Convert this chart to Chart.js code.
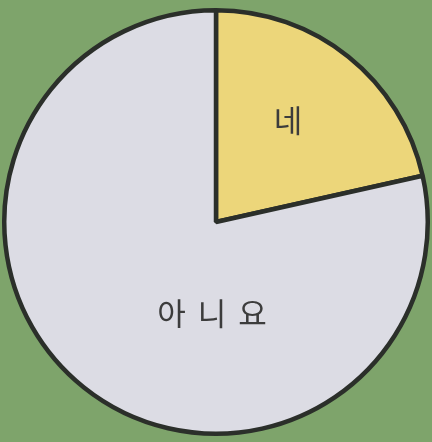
<!DOCTYPE html>
<html>
<head>
<meta charset="utf-8">
<script src="https://cdn.jsdelivr.net/npm/chart.js@4/dist/chart.umd.min.js"></script>
<style>
    html, body { margin: 0; padding: 0; background: #7ea46b; }
    #wrap { width: 432px; height: 442px; }
</style>
</head>
<body>
<div id="wrap"><canvas id="chart-pie"></canvas></div>
<script>
(function () {
    // 데이터
    const labels = ['네', '아니요'];
    const values = [21.5, 78.5];
    const colors = ['#ecd67a', '#dcdce4'];

    // 라벨 위치 (부채꼴 중심 기준 오프셋)
    const labelOffsets = [[72, -102], [-4, 91]];

    const pieLabels = {
        id: 'pieLabels',
        afterDatasetsDraw: function (chart) {
            var ctx = chart.ctx;
            var arcs = chart.getDatasetMeta(0).data;
            ctx.save();
            ctx.fillStyle = '#3c3c3c';
            ctx.font = '31px "Noto Sans CJK KR"';
            ctx.textAlign = 'center';
            ctx.textBaseline = 'middle';
            arcs.forEach(function (arc, i) {
                var off = labelOffsets[i];
                ctx.letterSpacing = i === 1 ? '12px' : '0px';
                ctx.fillText(labels[i], arc.x + off[0] + (i === 1 ? 6 : 0), arc.y + off[1]);
            });
            ctx.restore();
        }
    };

    new Chart(document.getElementById('chart-pie'), {
        type: 'pie',
        data: {
            labels: labels,
            datasets: [{
                data: values,
                backgroundColor: colors,
                borderColor: '#2b2f2a',
                borderWidth: 4.5,
                hoverOffset: 0
            }]
        },
        options: {
            responsive: true,
            maintainAspectRatio: false,
            animation: false,
            layout: { padding: { left: 2, right: 2, top: 8, bottom: 6 } },
            plugins: {
                legend: { display: false },
                tooltip: { enabled: false }
            }
        },
        plugins: [pieLabels]
    });
})();
</script>
</body>
</html>
